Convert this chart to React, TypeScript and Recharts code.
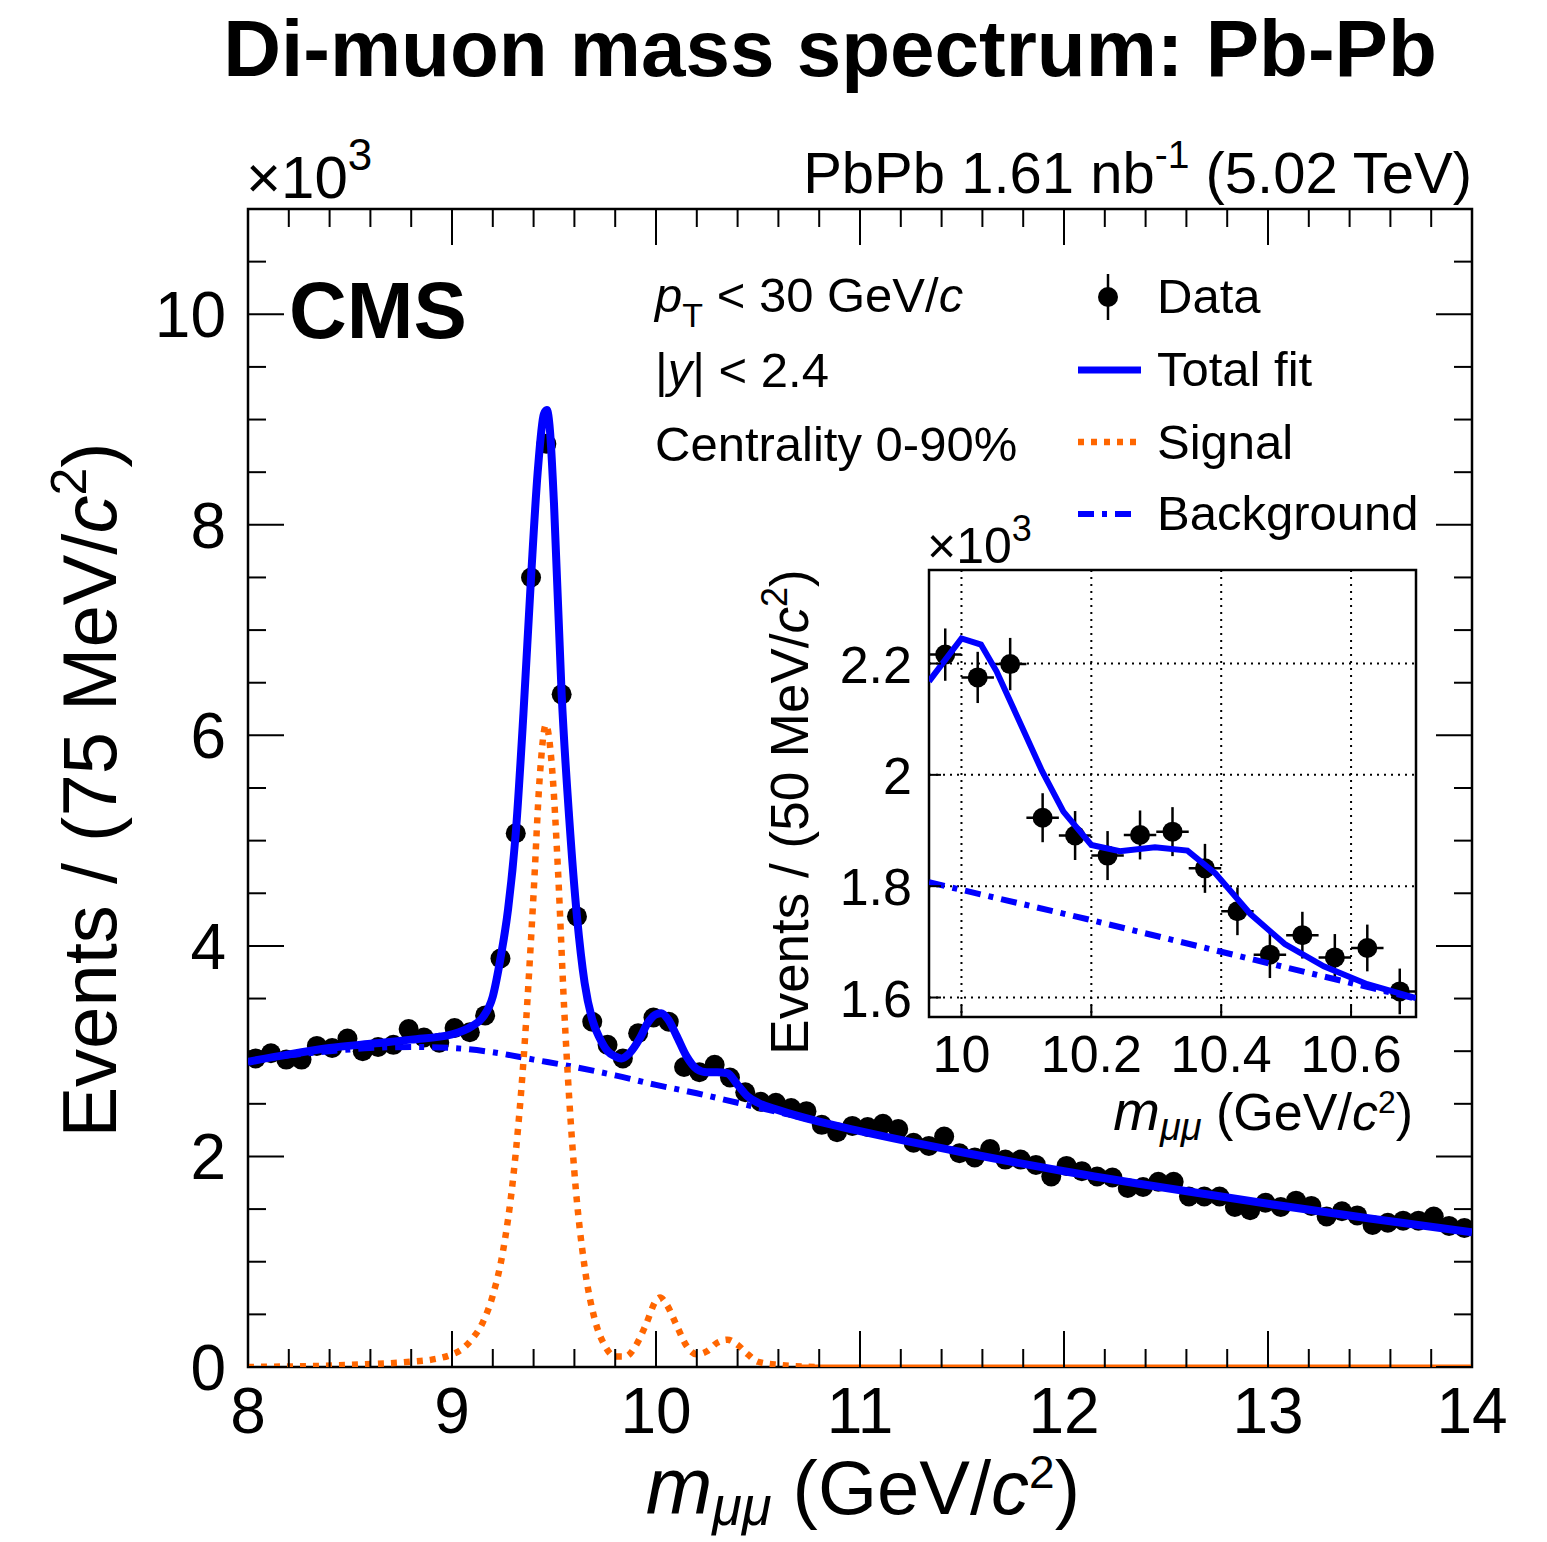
import React from 'react';
import { ComposedChart, Line, Scatter, XAxis, YAxis, ReferenceArea, CartesianGrid, ErrorBar } from 'recharts';

const FONT = '"Liberation Sans", Arial, Helvetica, sans-serif';
const BLUE = '#0000ff';
const ORANGE = '#ff6600';

// ---------- main plot data (Events per 75 MeV, x10^3) ----------
const MASS_BINS = [
  8.0375, 8.1125, 8.1875, 8.2625, 8.3375, 8.4125, 8.4875, 8.5625, 8.6375, 8.7125,
  8.7875, 8.8625, 8.9375, 9.0125, 9.0875, 9.1625, 9.2375, 9.3125, 9.3875, 9.4625,
  9.5375, 9.6125, 9.6875, 9.7625, 9.8375, 9.9125, 9.9875, 10.0625, 10.1375, 10.2125,
  10.2875, 10.3625, 10.4375, 10.5125, 10.5875, 10.6625, 10.7375, 10.8125, 10.8875, 10.9625,
  11.0375, 11.1125, 11.1875, 11.2625, 11.3375, 11.4125, 11.4875, 11.5625, 11.6375, 11.7125,
  11.7875, 11.8625, 11.9375, 12.0125, 12.0875, 12.1625, 12.2375, 12.3125, 12.3875, 12.4625,
  12.5375, 12.6125, 12.6875, 12.7625, 12.8375, 12.9125, 12.9875, 13.0625, 13.1375, 13.2125,
  13.2875, 13.3625, 13.4375, 13.5125, 13.5875, 13.6625, 13.7375, 13.8125, 13.8875, 13.9625,
];
const EVENTS = [
  2.93, 2.98, 2.92, 2.92, 3.05, 3.03, 3.12, 3.00, 3.04, 3.06,
  3.21, 3.13, 3.08, 3.22, 3.18, 3.34, 3.88, 5.07, 7.50, 8.77,
  6.39, 4.28, 3.28, 3.06, 2.93, 3.17, 3.32, 3.28, 2.85, 2.80,
  2.87, 2.75, 2.61, 2.52, 2.51, 2.46, 2.43, 2.30, 2.23, 2.29,
  2.28, 2.31, 2.26, 2.13, 2.10, 2.19, 2.03, 1.99, 2.07, 1.97,
  1.97, 1.92, 1.81, 1.91, 1.86, 1.81, 1.80, 1.70, 1.71, 1.76,
  1.76, 1.62, 1.62, 1.62, 1.52, 1.49, 1.56, 1.52, 1.58, 1.53,
  1.43, 1.48, 1.44, 1.35, 1.37, 1.39, 1.39, 1.43, 1.34, 1.32,
];

const FIT_X = [8.0, 8.2, 8.4, 8.6, 8.8, 9.0, 9.1, 9.15, 9.2, 9.2375, 9.275, 9.3125, 9.35, 9.3875, 9.42, 9.45, 9.465, 9.48, 9.5, 9.5375, 9.575, 9.6125, 9.65, 9.6875, 9.725, 9.7625, 9.8, 9.83, 9.87, 9.92, 9.96, 10.0, 10.025, 10.06, 10.1, 10.15, 10.2, 10.25, 10.3, 10.35, 10.4, 10.45, 10.5, 10.6, 10.8, 11.0, 11.5, 12.0, 12.5, 13.0, 13.5, 14.0];
const FIT_Y = [2.90, 2.97, 3.03, 3.07, 3.11, 3.16, 3.24, 3.32, 3.52, 3.88, 4.35, 5.07, 6.2, 7.5, 8.5, 9.05, 9.09, 8.9, 8.2, 6.39, 5.2, 4.28, 3.65, 3.30, 3.12, 3.00, 2.95, 2.93, 2.98, 3.12, 3.27, 3.35, 3.36, 3.30, 3.15, 2.95, 2.83, 2.80, 2.80, 2.79, 2.68, 2.57, 2.51, 2.44, 2.33, 2.24, 2.04, 1.86, 1.70, 1.55, 1.41, 1.28];

const SIG_X = [8.0, 8.5, 8.8, 8.9, 9.0, 9.05, 9.1, 9.15, 9.2, 9.25, 9.3, 9.35, 9.4, 9.43, 9.46, 9.49, 9.52, 9.55, 9.6, 9.65, 9.7, 9.75, 9.8, 9.85, 9.9, 9.95, 10.0, 10.02, 10.05, 10.1, 10.15, 10.2, 10.25, 10.3, 10.35, 10.4, 10.45, 10.5, 10.6, 10.8];
const SIG_Y = [0.0, 0.02, 0.05, 0.07, 0.12, 0.17, 0.27, 0.42, 0.68, 1.1, 1.8, 2.9, 4.5, 5.6, 6.1, 5.7, 4.7, 3.4, 1.85, 0.95, 0.45, 0.2, 0.1, 0.1, 0.2, 0.4, 0.63, 0.66, 0.6, 0.4, 0.2, 0.12, 0.15, 0.23, 0.26, 0.21, 0.12, 0.05, 0.02, 0.0];
// signal continues at zero to the end of the range (drawn densely, looks solid)
const SIG_TAIL_X = [10.7, 14.0];
const SIG_TAIL_Y = [0.0, 0.0];

const BKG_X = [8.0, 8.2, 8.4, 8.6, 8.8, 9.0, 9.2, 9.4, 9.6, 9.8, 10.0, 10.2, 10.4, 10.6, 10.8, 11.0, 11.5, 12.0, 12.5, 13.0, 13.5, 14.0];
const BKG_Y = [2.90, 2.96, 3.00, 3.03, 3.04, 3.03, 2.99, 2.92, 2.85, 2.77, 2.68, 2.60, 2.51, 2.42, 2.33, 2.24, 2.04, 1.86, 1.70, 1.55, 1.41, 1.28];

const X_TICKS = [8, 8.2, 8.4, 8.6, 8.8, 9, 9.2, 9.4, 9.6, 9.8, 10, 10.2, 10.4, 10.6, 10.8, 11, 11.2, 11.4, 11.6, 11.8, 12, 12.2, 12.4, 12.6, 12.8, 13, 13.2, 13.4, 13.6, 13.8, 14];
const X_MAJOR = [8, 9, 10, 11, 12, 13, 14];
const Y_TICKS = [0, 0.5, 1, 1.5, 2, 2.5, 3, 3.5, 4, 4.5, 5, 5.5, 6, 6.5, 7, 7.5, 8, 8.5, 9, 9.5, 10, 10.5];
const Y_MAJOR = [0, 2, 4, 6, 8, 10];

// ---------- inset data (Events per 50 MeV, x10^3) ----------
const INSET_BINS = [9.975, 10.025, 10.075, 10.125, 10.175, 10.225, 10.275, 10.325, 10.375, 10.425, 10.475, 10.525, 10.575, 10.625, 10.675];
const INSET_EVENTS = [2.216, 2.175, 2.199, 1.923, 1.891, 1.855, 1.892, 1.898, 1.832, 1.755, 1.677, 1.712, 1.672, 1.689, 1.611];
const INSET_ERR_Y = [0.047, 0.046, 0.047, 0.044, 0.044, 0.044, 0.044, 0.044, 0.044, 0.043, 0.042, 0.042, 0.042, 0.042, 0.041];
const INSET_ERR_X = [0.025, 0.025, 0.025, 0.025, 0.025, 0.025, 0.025, 0.025, 0.025, 0.025, 0.025, 0.025, 0.025, 0.025, 0.025];
const INSET_FIT_X = [9.95, 10.0, 10.03, 10.054, 10.09, 10.124, 10.157, 10.2, 10.244, 10.298, 10.348, 10.391, 10.445, 10.498, 10.558, 10.625, 10.70];
const INSET_FIT_Y = [2.168, 2.245, 2.234, 2.186, 2.094, 2.007, 1.934, 1.874, 1.863, 1.870, 1.864, 1.823, 1.75, 1.696, 1.656, 1.624, 1.599];
const INSET_BKG_X = [9.95, 10.2, 10.45, 10.70];
const INSET_BKG_Y = [1.807, 1.739, 1.668, 1.598];
const INSET_X_TICKS = [10, 10.2, 10.4, 10.6];
const INSET_Y_TICKS = [1.6, 1.8, 2, 2.2];

// ---------- rows ----------
const pointRows = MASS_BINS.map((x, i) => ({ x, y: EVENTS[i] }));
const fitRows = FIT_X.map((x, i) => ({ x, y: FIT_Y[i] }));
const sigRows = SIG_X.map((x, i) => ({ x, y: SIG_Y[i] }));
const sigTailRows = SIG_TAIL_X.map((x, i) => ({ x, y: SIG_TAIL_Y[i] }));
const bkgRows = BKG_X.map((x, i) => ({ x, y: BKG_Y[i] }));
const insetRows = INSET_BINS.map((x, i) => ({ x, y: INSET_EVENTS[i], ey: INSET_ERR_Y[i], ex: INSET_ERR_X[i] }));
const insetFitRows = INSET_FIT_X.map((x, i) => ({ x, y: INSET_FIT_Y[i] }));
const insetBkgRows = INSET_BKG_X.map((x, i) => ({ x, y: INSET_BKG_Y[i] }));

// ---------- layout ----------
const W = 1547;
const H = 1542;
const M = { left: 248, right: 1472, top: 209, bottom: 1367 };
const AXH = 80;
const AXW = 80;
const INSET_BOX = { left: 829, top: 520, width: 600, height: 640 };
const IPL = { left: 100, top: 50, right: 587, bottom: 497 }; // inset plot area in inset svg coords
const IAXH = 60;
const IAXW = 60;
const Z_CURVE = 800;

function MainXTick(p: any) {
  const { x, payload } = p;
  const v = payload.value;
  const major = X_MAJOR.includes(v);
  const len = major ? 36 : 18;
  return (
    <g>
      <line x1={x} x2={x} y1={M.bottom} y2={M.bottom - len} stroke="#000" strokeWidth={2} />
      <line x1={x} x2={x} y1={M.top} y2={M.top + len} stroke="#000" strokeWidth={2} />
      {major && (
        <text x={x} y={M.bottom + 66} textAnchor="middle" fontSize={64} fontFamily={FONT} fill="#000">
          {v}
        </text>
      )}
    </g>
  );
}

function MainYTick(p: any) {
  const { y, payload } = p;
  const v = payload.value;
  const major = Y_MAJOR.includes(v);
  const len = major ? 36 : 18;
  return (
    <g>
      <line x1={M.left} x2={M.left + len} y1={y} y2={y} stroke="#000" strokeWidth={2} />
      <line x1={M.right} x2={M.right - len} y1={y} y2={y} stroke="#000" strokeWidth={2} />
      {major && (
        <text x={M.left - 22} y={y + 23} textAnchor="end" fontSize={64} fontFamily={FONT} fill="#000">
          {v}
        </text>
      )}
    </g>
  );
}

function InsetXTick(p: any) {
  const { x, payload } = p;
  return (
    <g>
      <line x1={x} x2={x} y1={IPL.bottom} y2={IPL.bottom - 12} stroke="#000" strokeWidth={2} />
      <text x={x} y={IPL.bottom + 55} textAnchor="middle" fontSize={52} fontFamily={FONT} fill="#000">
        {payload.value}
      </text>
    </g>
  );
}

function InsetYTick(p: any) {
  const { y, payload } = p;
  return (
    <g>
      <line x1={IPL.left} x2={IPL.left + 12} y1={y} y2={y} stroke="#000" strokeWidth={2} />
      <text x={IPL.left - 17} y={y + 19} textAnchor="end" fontSize={52} fontFamily={FONT} fill="#000">
        {payload.value}
      </text>
    </g>
  );
}

const MainDot = (p: any) => (p.cx == null || p.cy == null ? <g key={p.key} /> : <circle key={p.key} cx={p.cx} cy={p.cy} r={10} fill="#000" />);
const InsetDot = (p: any) => <circle cx={p.cx} cy={p.cy} r={10} fill="#000" />;

function Overlay() {
  return (
    <svg width={W} height={H} style={{ position: 'absolute', left: 0, top: 0, pointerEvents: 'none' }} fontFamily={FONT}>
      <text x={830} y={76} textAnchor="middle" fontSize={80} fontWeight="bold" fill="#000">
        Di-muon mass spectrum: Pb-Pb
      </text>
      <text x={246} y={198} fontSize={60} fill="#000">
        ×10<tspan dy={-28} fontSize={44}>3</tspan>
      </text>
      <text x={1472} y={193} textAnchor="end" fontSize={58} fill="#000">
        PbPb 1.61 nb<tspan dy={-25} fontSize={39}>-1</tspan>
        <tspan dy={25}> (5.02 TeV)</tspan>
      </text>
      <text x={1080} y={1514} textAnchor="end" fontSize={76} fill="#000">
        <tspan fontStyle="italic" fontSize={80}>m</tspan>
        <tspan fontSize={54} dy={11} fontStyle="italic">μμ</tspan>
        <tspan dy={-11}> (GeV/</tspan>
        <tspan fontStyle="italic">c</tspan>
        <tspan fontSize={46} dy={-26}>2</tspan>
        <tspan dy={26}>)</tspan>
      </text>
      <text transform="translate(116,790) rotate(-90)" textAnchor="middle" fontSize={76} fill="#000">
        Events / (75 MeV/<tspan fontStyle="italic">c</tspan>
        <tspan fontSize={50} dy={-30}>2</tspan>
        <tspan dy={30}>)</tspan>
      </text>
      <text x={289} y={338} fontSize={80} fontWeight="bold" fill="#000">CMS</text>
      <text x={655} y={312} fontSize={49} fill="#000">
        <tspan fontStyle="italic">p</tspan>
        <tspan fontSize={34} dy={15}>T</tspan>
        <tspan dy={-15}> &lt; 30 GeV/</tspan>
        <tspan fontStyle="italic">c</tspan>
      </text>
      <text x={655} y={387} fontSize={49} fill="#000">
        |<tspan fontStyle="italic">y</tspan>| &lt; 2.4
      </text>
      <text x={655} y={461} fontSize={49} fill="#000">Centrality 0-90%</text>
      {/* legend */}
      <line x1={1108} x2={1108} y1={274} y2={320} stroke="#000" strokeWidth={2.5} />
      <circle cx={1108} cy={297} r={10} fill="#000" />
      <text x={1157} y={313} fontSize={49} fill="#000">Data</text>
      <line x1={1078} x2={1141} y1={370} y2={370} stroke={BLUE} strokeWidth={7} />
      <text x={1157} y={386} fontSize={49} fill="#000">Total fit</text>
      <line x1={1078} x2={1136} y1={442} y2={442} stroke={ORANGE} strokeWidth={6.5} strokeDasharray="6 7" />
      <text x={1157} y={459} fontSize={49} fill="#000">Signal</text>
      <line x1={1078} x2={1136} y1={514} y2={514} stroke={BLUE} strokeWidth={6} strokeDasharray="16 8 5 8" />
      <text x={1157} y={530} fontSize={49} fill="#000">Background</text>
      {/* inset labels */}
      <text x={927} y={563} fontSize={50} fill="#000">
        ×10<tspan dy={-22} fontSize={36}>3</tspan>
      </text>
      <text transform="translate(808,812) rotate(-90)" textAnchor="middle" fontSize={53} fill="#000">
        Events / (50 MeV/<tspan fontStyle="italic">c</tspan>
        <tspan fontSize={36} dy={-21}>2</tspan>
        <tspan dy={21}>)</tspan>
      </text>
      <text x={1413} y={1130} textAnchor="end" fontSize={52} fill="#000">
        <tspan fontStyle="italic" fontSize={56}>m</tspan>
        <tspan fontSize={38} dy={10} fontStyle="italic">μμ</tspan>
        <tspan dy={-10}> (GeV/</tspan>
        <tspan fontStyle="italic">c</tspan>
        <tspan fontSize={32} dy={-17}>2</tspan>
        <tspan dy={17}>)</tspan>
      </text>
    </svg>
  );
}

export default function App() {
  return (
    <div style={{ position: 'absolute', left: 0, top: 0, width: W, height: H, background: '#fff', overflow: 'hidden' }}>
      <div style={{ position: 'absolute', left: 0, top: 0 }}>
        <ComposedChart
          width={W}
          height={H}
          margin={{ left: M.left - AXW, top: M.top, right: W - M.right, bottom: H - M.bottom - AXH }}
        >
          <XAxis
            type="number"
            dataKey="x"
            domain={[8, 14]}
            ticks={X_TICKS}
            interval={0}
            allowDataOverflow
            height={AXH}
            tickSize={0}
            tickMargin={0}
            tickLine={false}
            axisLine={false}
            tick={(p: any) => <MainXTick {...p} />}
          />
          <YAxis
            type="number"
            domain={[0, 11]}
            ticks={Y_TICKS}
            interval={0}
            allowDataOverflow
            width={AXW}
            tickSize={0}
            tickMargin={0}
            tickLine={false}
            axisLine={false}
            tick={(p: any) => <MainYTick {...p} />}
          />
          <ReferenceArea x1={8} x2={14} y1={0} y2={11} fill="none" stroke="#000" strokeWidth={2.5} />
          <Scatter data={pointRows} dataKey="y" isAnimationActive={false} shape={MainDot} />
          <Line data={bkgRows} dataKey="y" type="monotone" stroke={BLUE} strokeWidth={6} strokeDasharray="16 8 5 8" dot={false} activeDot={false} isAnimationActive={false} zIndex={Z_CURVE} />
          <Line data={sigRows} dataKey="y" type="monotone" stroke={ORANGE} strokeWidth={6.5} strokeDasharray="6 7" dot={false} activeDot={false} isAnimationActive={false} zIndex={Z_CURVE} />
          <Line data={sigTailRows} dataKey="y" type="linear" stroke={ORANGE} strokeWidth={5} dot={false} activeDot={false} isAnimationActive={false} zIndex={Z_CURVE} />
          <Line data={fitRows} dataKey="y" type="monotone" stroke={BLUE} strokeWidth={8} dot={false} activeDot={false} isAnimationActive={false} zIndex={Z_CURVE + 1} />
        </ComposedChart>
      </div>
      <div style={{ position: 'absolute', left: INSET_BOX.left, top: INSET_BOX.top }}>
        <ComposedChart
          width={INSET_BOX.width}
          height={INSET_BOX.height}
          margin={{ left: IPL.left - IAXW, top: IPL.top, right: INSET_BOX.width - IPL.right, bottom: INSET_BOX.height - IPL.bottom - IAXH }}
        >
          <CartesianGrid stroke="#000" strokeWidth={2} strokeDasharray="2 5" />
          <XAxis
            type="number"
            dataKey="x"
            domain={[9.95, 10.7]}
            ticks={INSET_X_TICKS}
            interval={0}
            allowDataOverflow
            height={IAXH}
            tickSize={0}
            tickMargin={0}
            tickLine={false}
            axisLine={false}
            tick={(p: any) => <InsetXTick {...p} />}
          />
          <YAxis
            type="number"
            domain={[1.565, 2.368]}
            ticks={INSET_Y_TICKS}
            interval={0}
            allowDataOverflow
            width={IAXW}
            tickSize={0}
            tickMargin={0}
            tickLine={false}
            axisLine={false}
            tick={(p: any) => <InsetYTick {...p} />}
          />
          <ReferenceArea x1={9.95} x2={10.7} y1={1.565} y2={2.368} fill="none" stroke="#000" strokeWidth={2.5} />
          <Scatter data={insetRows} dataKey="y" isAnimationActive={false} shape={InsetDot}>
            <ErrorBar dataKey="ey" direction="y" width={0} stroke="#000" strokeWidth={2.5} isAnimationActive={false} />
            <ErrorBar dataKey="ex" direction="x" width={0} stroke="#000" strokeWidth={2.5} isAnimationActive={false} />
          </Scatter>
          <Line data={insetBkgRows} dataKey="y" type="linear" stroke={BLUE} strokeWidth={6} strokeDasharray="16 8 5 8" dot={false} activeDot={false} isAnimationActive={false} zIndex={Z_CURVE} />
          <Line data={insetFitRows} dataKey="y" type="linear" stroke={BLUE} strokeWidth={6} dot={false} activeDot={false} isAnimationActive={false} zIndex={Z_CURVE + 1} />
        </ComposedChart>
      </div>
      <Overlay />
    </div>
  );
}
